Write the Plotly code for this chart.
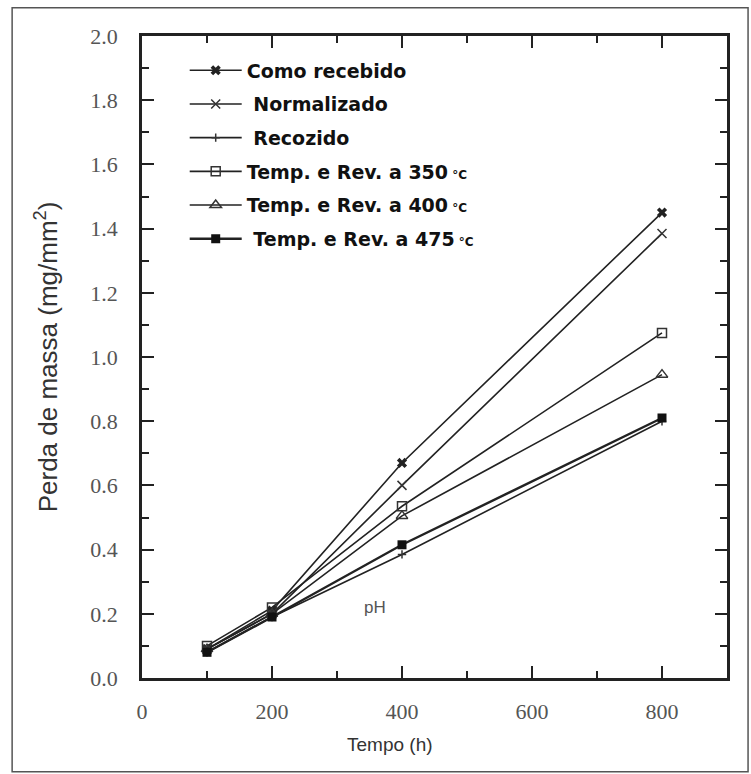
import plotly.graph_objects as go

tempo = [100, 200, 400, 800]
como_recebido = [0.09, 0.21, 0.67, 1.45]
normalizado = [0.09, 0.20, 0.60, 1.385]
recozido = [0.08, 0.19, 0.385, 0.80]
rev_350 = [0.10, 0.22, 0.535, 1.075]
rev_400 = [0.09, 0.20, 0.505, 0.945]
rev_475 = [0.08, 0.19, 0.415, 0.81]

sm = '<span style="font-size:12px"> °C</span>'
names = ["Como recebido", " Normalizado", " Recozido",
         "Temp. e Rev. a 350" + sm, "Temp. e Rev. a 400" + sm, " Temp. e Rev. a 475" + sm]
series = [como_recebido, normalizado, recozido, rev_350, rev_400, rev_475]
markers = [
    dict(symbol="x", size=9, color="#222", line=dict(width=0)),
    dict(symbol="x-thin", size=9, color="#333", line=dict(width=1.5, color="#333")),
    dict(symbol="cross-thin", size=6, color="#333", line=dict(width=1.5, color="#333")),
    dict(symbol="square-open", size=9, color="#333", line=dict(width=1.5)),
    dict(symbol="triangle-up-open", size=10, color="#333", line=dict(width=1.5)),
    dict(symbol="square", size=9, color="#111", line=dict(width=0)),
]
widths = [1.6, 1.6, 1.6, 1.6, 1.6, 2.4]

fig = go.Figure()
for i, (nm, ys, mk, w) in enumerate(zip(names, series, markers, widths)):
    fig.add_trace(go.Scatter(x=tempo, y=ys, name=nm, mode="lines+markers",
                             line=dict(color="#222", width=w), marker=mk,
                             legendgroup=str(i)))

fig.add_annotation(x=358, y=0.22, text="pH", showarrow=False,
                   font=dict(family="Arial, Liberation Sans, sans-serif", size=17, color="#555"))
fig.add_annotation(xref="paper", yref="paper", x=0.424, y=-0.104, text="Tempo (h)",
                   showarrow=False, xanchor="center", yanchor="middle",
                   font=dict(family="Arial, Liberation Sans, sans-serif", size=19, color="#333"))

serif_font = dict(family="Liberation Serif", size=22, color="#555")
axis_common = dict(showline=True, linecolor="#222", linewidth=2.5, mirror="ticks",
                   ticks="inside", ticklen=12, tickwidth=2, tickcolor="#222",
                   showgrid=False, zeroline=False)

fig.update_xaxes(range=[0, 900], tickvals=[0, 200, 400, 600, 800],
                 tickfont=serif_font,
                 minor=dict(ticks="inside", ticklen=7, tickwidth=2, tickcolor="#222", dtick=100, tick0=0, showgrid=False),
                 ticklabelstandoff=12, **axis_common)
fig.update_yaxes(range=[0, 2.0], tickvals=[0, 0.2, 0.4, 0.6, 0.8, 1.0, 1.2, 1.4, 1.6, 1.8, 2.0],
                 ticktext=["0.0", "0.2", "0.4", "0.6", "0.8", "1.0", "1.2", "1.4", "1.6", "1.8", "2.0"],
                 tickfont=serif_font,
                 minor=dict(ticks="inside", ticklen=7, tickwidth=2, tickcolor="#222", dtick=0.1, tick0=0, showgrid=False),
                 title=dict(text="Perda de massa (mg/mm<sup>2</sup>)", standoff=26,
                            font=dict(family="Arial, Liberation Sans, sans-serif", size=26, color="#333")),
                 ticklabelstandoff=17, **axis_common)

fig.add_shape(type="rect", xref="paper", yref="paper",
              x0=-0.222, x1=1.036, y0=-0.146, y1=1.044,
              line=dict(color="#555", width=1.5), layer="below")

fig.update_layout(
    width=751, height=774,
    margin=dict(l=142, r=24, t=36, b=96),
    paper_bgcolor="white", plot_bgcolor="white",
    legend=dict(x=0.073, y=0.976, xanchor="left", yanchor="top",
                bgcolor="rgba(0,0,0,0)", traceorder="grouped", tracegroupgap=6,
                font=dict(family="DejaVu Sans", size=19, color="#111", weight="bold"),
                itemwidth=52),
)

fig.write_html("out.html")
